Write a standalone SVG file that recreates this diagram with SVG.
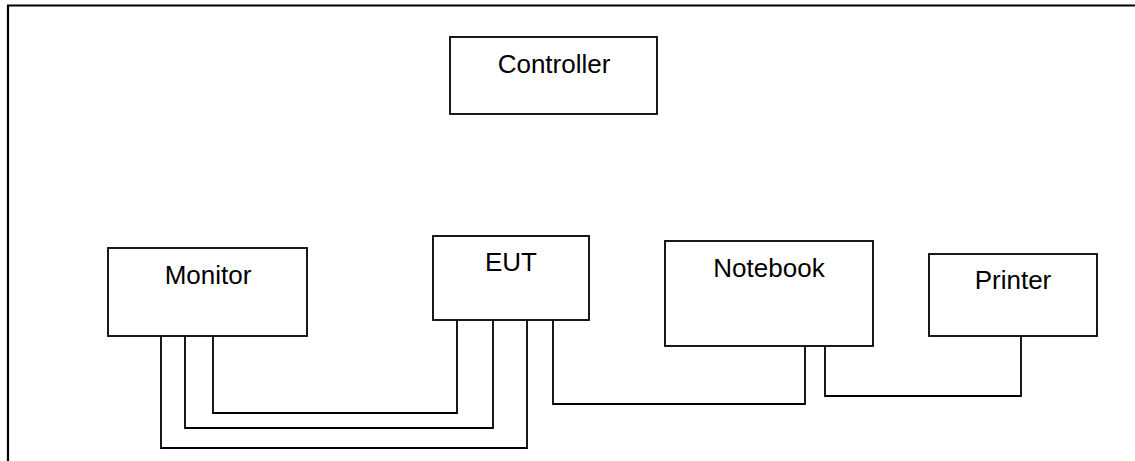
<svg xmlns="http://www.w3.org/2000/svg" width="1135" height="461" viewBox="0 0 1135 461">
<style>
.box{fill:#fff;stroke:#000;stroke-width:1.8}
.lbl{font-family:"Liberation Sans",Arial,sans-serif;font-size:26px;fill:#000;text-anchor:middle}
.wire{fill:none;stroke:#000;stroke-width:1.8}
.frame{fill:none;stroke:#000;stroke-width:2.2}
</style>
<rect width="1135" height="461" fill="#fff"/>
<path class="frame" d="M8,461 V5.5 H1135"/>
<g id="connectors">
<polyline class="wire" points="213,336 213,413 457,413 457,320"/>
<polyline class="wire" points="185,336 185,428 493,428 493,320"/>
<polyline class="wire" points="161,336 161,448 527,448 527,320"/>
<polyline class="wire" points="553,320 553,404 805,404 805,346"/>
<polyline class="wire" points="825,346 825,396 1021,396 1021,336"/>
</g>
<g id="controller">
<rect class="box" x="450" y="37" width="207" height="77"/>
<text class="lbl" x="554" y="73">Controller</text>
</g>
<g id="monitor">
<rect class="box" x="108" y="248" width="199" height="88"/>
<text class="lbl" x="208" y="284">Monitor</text>
</g>
<g id="eut">
<rect class="box" x="433" y="236" width="156" height="84"/>
<text class="lbl" x="511" y="271">EUT</text>
</g>
<g id="notebook">
<rect class="box" x="665" y="241" width="208" height="105"/>
<text class="lbl" x="769" y="277">Notebook</text>
</g>
<g id="printer">
<rect class="box" x="929" y="254" width="168" height="82"/>
<text class="lbl" x="1013" y="289">Printer</text>
</g>
</svg>
